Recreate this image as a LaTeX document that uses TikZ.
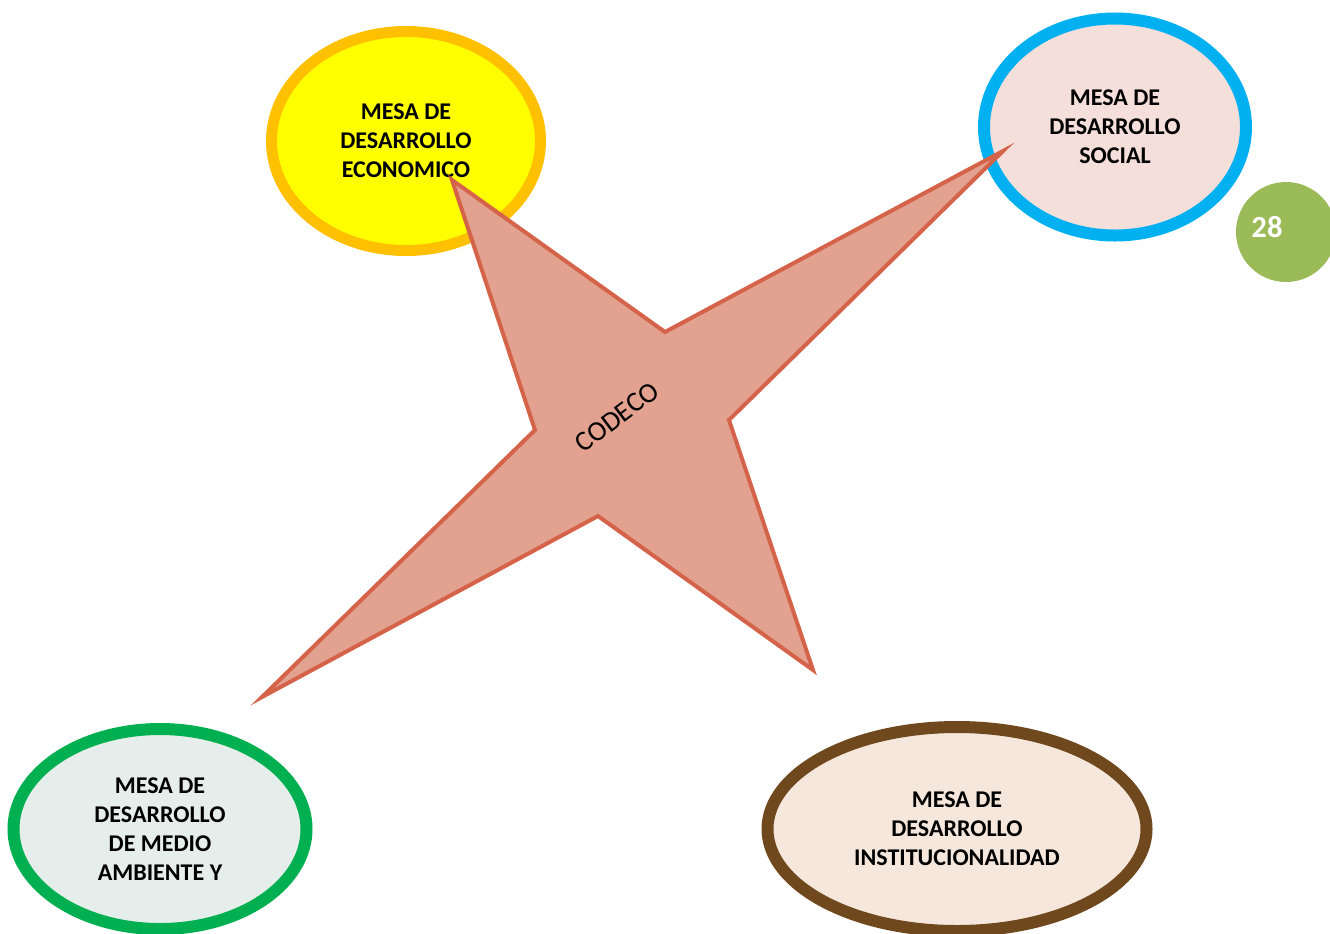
\documentclass[tikz,border=0pt]{standalone}
\usepackage{fontspec}
\setmainfont{Carlito}
\usetikzlibrary{shapes,positioning}
\definecolor{ecoline}{HTML}{FFC000}
\definecolor{ecofill}{HTML}{FFFF00}
\definecolor{socline}{HTML}{00B0F0}
\definecolor{socfill}{HTML}{F4DFDA}
\definecolor{ambline}{HTML}{00B050}
\definecolor{ambfill}{HTML}{E6EEEC}
\definecolor{insline}{HTML}{70481E}
\definecolor{insfill}{HTML}{F5E7DB}
\definecolor{starline}{HTML}{D4634A}
\definecolor{starfill}{HTML}{E3A190}
\definecolor{pagegreen}{HTML}{9BBB59}
\tikzset{
style1/.style= {ellipse, draw, line width=9pt, inner sep=0pt, align=center, font=\bfseries\fontsize{18}{21.75}\selectfont},
style2/.style= {circle, fill=pagegreen, minimum size=75pt, inner sep=0pt},
style3/.style= {starline, fill=starfill, line width=3pt, line join=miter}
}

\begin{document}
\begin{tikzpicture}[x=0.75pt,y=-0.75pt]
\useasboundingbox (0,0) rectangle (1330,933);

% the four mesas
\node[style1, ecoline, fill=ecofill, text=black, line width=8.25pt, minimum width=201.75pt, minimum height=164.25pt] (c1) at (406,141) {MESA DE\\DESARROLLO\\ECONOMICO};
\node[style1, socline, fill=socfill, text=black, minimum width=196.5pt, minimum height=162.75pt] (c2) at (1115,127) {MESA DE\\DESARROLLO\\SOCIAL};
\node[style1, ambline, fill=ambfill, text=black, minimum width=219.75pt, minimum height=150pt] (c3) at (160,829) {MESA DE\\DESARROLLO\\DE MEDIO\\AMBIENTE Y};
\node[style1, insline, fill=insfill, text=black, minimum width=284.25pt, minimum height=153pt] (c4) at (957,829) {MESA DE\\DESARROLLO\\INSTITUCIONALIDAD};

% page number
\node[style2, label={[text=white, font=\bfseries\fontsize{23}{27}\selectfont, xshift=-14.25pt, yshift=3.75pt]center:28}] (c5) at (1286,232) {};

% star
\coordinate (t1) at (452,180);
\coordinate (i1) at (665,332);
\coordinate (t2) at (1003,151);
\coordinate (i2) at (729,420);
\coordinate (t3) at (813,670);
\coordinate (i3) at (598,516);
\coordinate (t4) at (262,697);
\coordinate (i4) at (535,430);
\draw[style3] (t1) -- (i1) -- (t2) -- (i2) -- (t3) -- (i3) -- (t4) -- (i4) -- cycle;
\node[rotate=37, font=\fontsize{21}{25}\selectfont, inner sep=0pt] (c0) at (617,417) {CODECO};
\end{tikzpicture}
\end{document}
